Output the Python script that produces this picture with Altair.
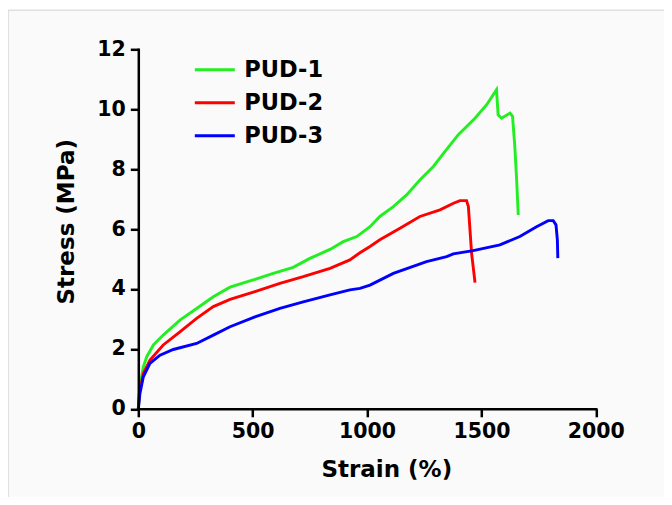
import altair as alt
import pandas as pd

series_names = ["PUD-1", "PUD-2", "PUD-3"]
series_colors = ["#22ee22", "#ff0000", "#0000ff"]

pud1_strain = [0, 7, 22, 37, 66, 109, 182, 255, 328, 401, 474, 510, 590, 677, 750, 838, 896, 955,
               1013, 1056, 1115, 1173, 1231, 1290, 1341, 1399, 1472, 1523, 1566, 1573, 1588, 1625,
               1636, 1646, 1654, 1661]
pud1_stress = [0, 0.73, 1.40, 1.74, 2.13, 2.46, 2.96, 3.35, 3.74, 4.06, 4.24, 4.32, 4.52, 4.72, 5.02,
               5.32, 5.58, 5.75, 6.08, 6.42, 6.75, 7.14, 7.64, 8.09, 8.59, 9.15, 9.70, 10.15, 10.65,
               9.81, 9.70, 9.87, 9.76, 8.75, 7.64, 6.47]

pud2_strain = [0, 4, 22, 51, 109, 182, 255, 328, 401, 510, 619, 721, 838, 925, 969, 1013, 1056, 1144,
               1231, 1319, 1378, 1406, 1435, 1443, 1450, 1457, 1464, 1472]
pud2_stress = [0, 0.5, 1.18, 1.63, 2.13, 2.57, 3.02, 3.41, 3.65, 3.91, 4.19, 4.41, 4.69, 4.97, 5.21,
               5.42, 5.64, 6.03, 6.42, 6.64, 6.86, 6.95, 6.95, 6.75, 5.97, 5.19, 4.74, 4.21]

pud3_strain = [0, 7, 22, 51, 95, 153, 255, 328, 401, 510, 619, 721, 838, 925, 969, 1013, 1115, 1260,
               1348, 1377, 1464, 1581, 1668, 1741, 1792, 1814, 1826, 1832, 1834]
pud3_stress = [0, 0.5, 1.07, 1.52, 1.79, 1.98, 2.18, 2.46, 2.74, 3.07, 3.35, 3.57, 3.80, 3.97, 4.02,
               4.13, 4.52, 4.91, 5.08, 5.17, 5.28, 5.47, 5.75, 6.08, 6.28, 6.28, 6.14, 5.64, 5.03]

x_ticks = [0, 500, 1000, 1500, 2000]
y_ticks = [0, 2, 4, 6, 8, 10, 12]

rows = []
for name, xs, ys in zip(series_names,
                        [pud1_strain, pud2_strain, pud3_strain],
                        [pud1_stress, pud2_stress, pud3_stress]):
    for i, (xv, yv) in enumerate(zip(xs, ys)):
        rows.append({"series": name, "strain": xv, "stress": yv, "idx": i})
df = pd.DataFrame(rows)

FONT = "DejaVu Sans"

frame = alt.Chart(alt.Data(values=[{"a": 1}])).mark_rect(
    fill="#fafafa", stroke="#e0e0e0", strokeWidth=1.5
).encode(
    x=alt.value(-130), x2=alt.value(600), y=alt.value(-39), y2=alt.value(480)
)

lines = alt.Chart(df).mark_line(strokeWidth=2.9).encode(
    x=alt.X("strain:Q",
            scale=alt.Scale(domain=[0, 2000], nice=False),
            axis=alt.Axis(values=x_ticks, format="d", title="Strain (%)", grid=False,
                          titleX=248, titleY=68, titleBaseline="alphabetic",
                          titleAlign="center", labelPadding=5, labelFlush=False,
                          zindex=2)),
    y=alt.Y("stress:Q",
            scale=alt.Scale(domain=[0, 12], nice=False),
            axis=alt.Axis(values=y_ticks, format="d", title="Stress (MPa)", grid=False,
                          titleX=-65, titleY=172, titleBaseline="alphabetic",
                          titleAlign="center", labelPadding=5, labelFlush=False,
                          zindex=2)),
    color=alt.Color("series:N",
                    scale=alt.Scale(domain=series_names, range=series_colors),
                    legend=alt.Legend(title=None, orient="none", legendX=55, legendY=4,
                                      symbolType="stroke", symbolSize=1600,
                                      symbolStrokeWidth=3, labelFontSize=22.5,
                                      labelFont=FONT, labelFontWeight="bold",
                                      labelColor="black", labelOffset=8,
                                      clipHeight=33, rowPadding=0, padding=0, zindex=2)),
    order="idx:Q",
)

chart = alt.layer(frame, lines).properties(
    width=457.5, height=359.5,
    autosize=alt.AutoSizeParams(type="none"),
    padding={"left": 130.3, "top": 41.3, "right": 68, "bottom": 88},
    background="white",
).configure_view(stroke=None).configure_axis(
    domainColor="black", domainWidth=2.5, tickColor="black", tickWidth=2.5,
    tickSize=8, labelFont=FONT, labelFontSize=20.5, labelFontWeight="bold",
    labelColor="black", titleFont=FONT, titleFontSize=23, titleFontWeight="bold",
    titleColor="black", domainCap="square"
)

chart.save("out.html", embed_options={"renderer": "svg", "actions": False})
